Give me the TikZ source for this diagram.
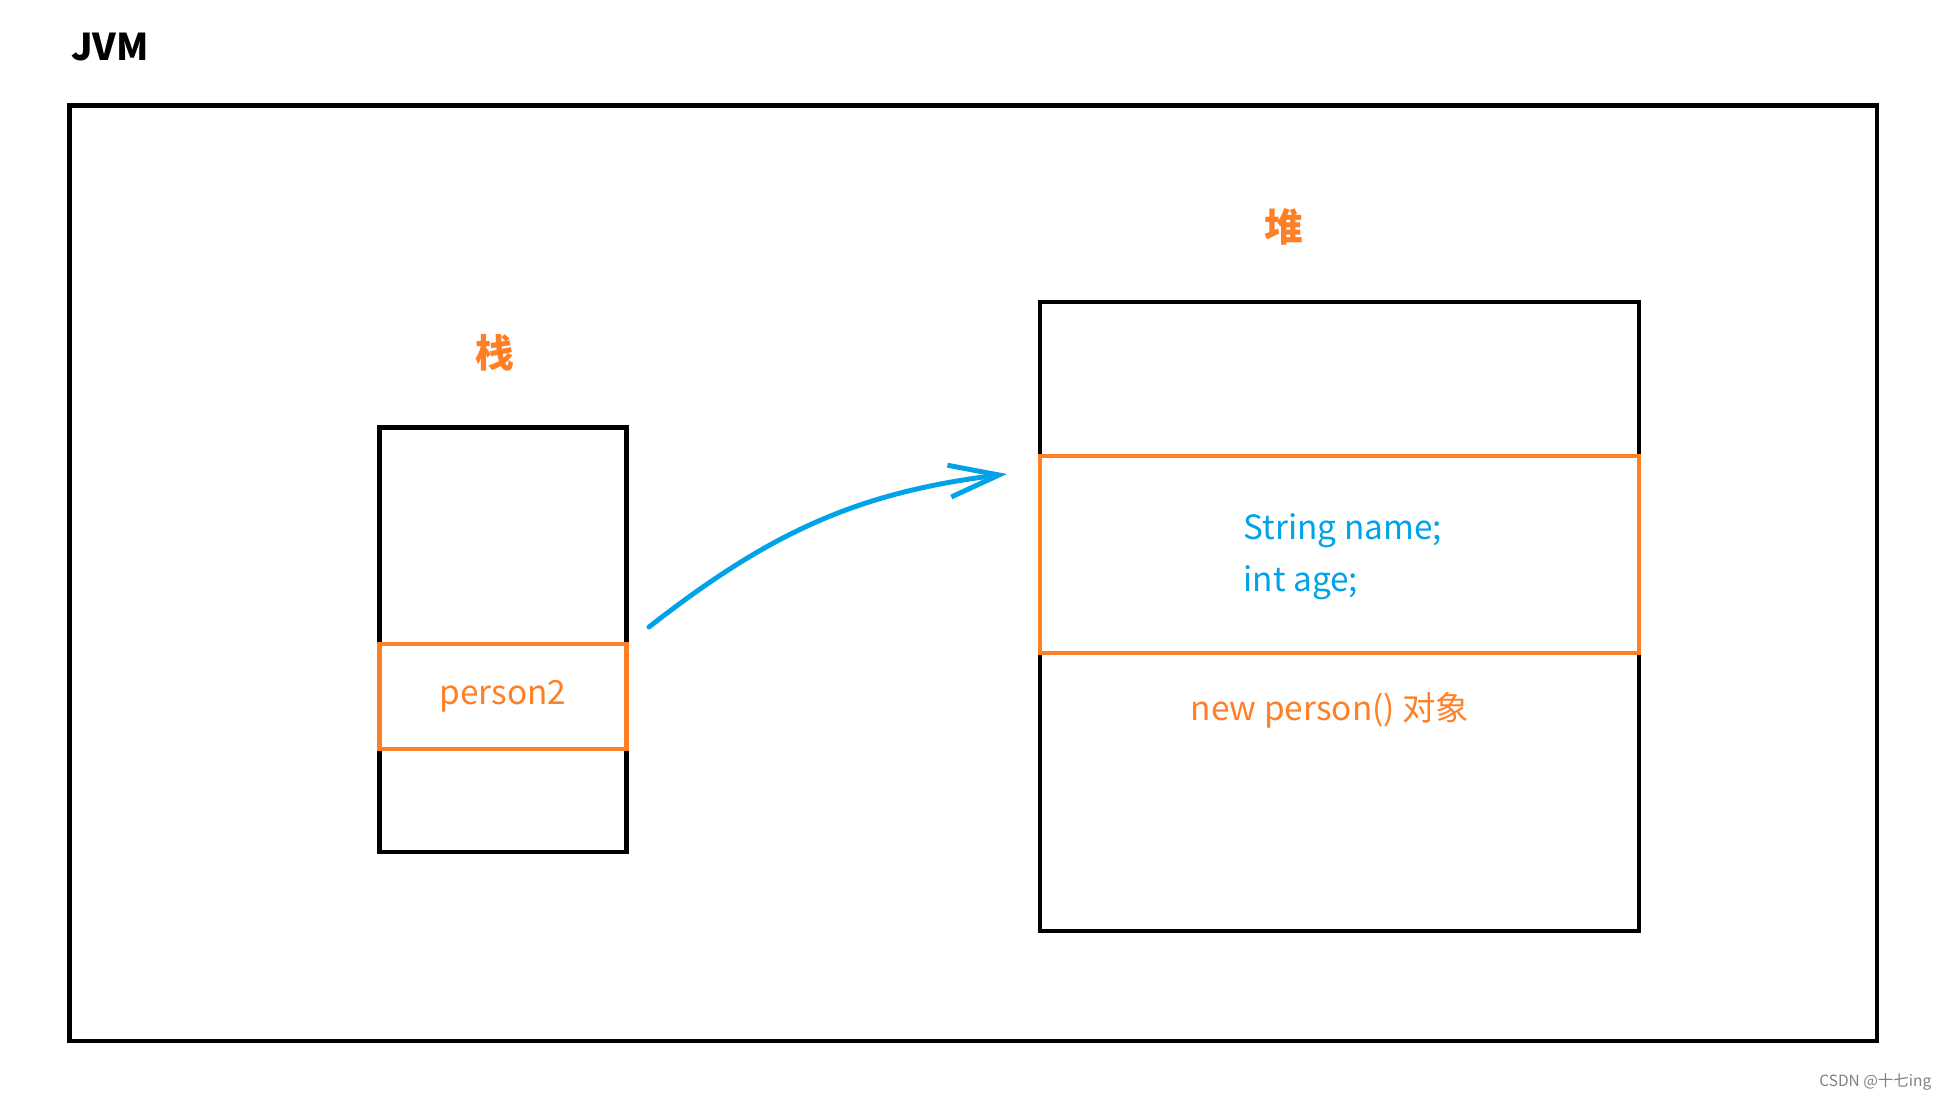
\documentclass[tikz,border=0pt]{standalone}
\usepackage{fontspec}
\setmainfont{Noto Sans CJK SC}
\usepackage{tikz}
\usetikzlibrary{positioning,arrows.meta}
\definecolor{paintorange}{HTML}{FF7F27}
\definecolor{paintblue}{HTML}{00A2E8}

\begin{document}
\begin{tikzpicture}[>=Stealth, x=1cm, y=1cm,
    box/.style={rectangle, draw=black, line width=1.4pt, inner sep=0pt},
    slot/.style={rectangle, draw=paintorange, line width=1.2pt, inner sep=0pt},
    area/.style={font=\fontsize{11}{13}\selectfont\bfseries, text=paintorange},
    field/.style={font=\fontsize{9.5}{12}\selectfont, text=paintblue, inner sep=0pt},
    ref/.style={draw=paintblue, line width=1.4pt, line cap=round},
    node distance=0.5cm]

\useasboundingbox (0,0) rectangle (19.47,-10.99);

\node[font=\fontsize{10.5}{12}\selectfont\bfseries, anchor=base, inner sep=0pt] (jvm) at (1.10,-0.60) {JVM};
\node[box, minimum width=18.075cm, minimum height=9.355cm] (jvmbox) at (9.7325,-5.7325) {};

\node[box, minimum width=2.47cm, minimum height=4.245cm] (stack) at (5.03,-6.3975) {};
\node[slot, minimum width=2.47cm, minimum height=1.05cm, text=paintorange,
      font=\fontsize{9.5}{12}\selectfont] (person) at (5.03,-6.965) {person2};
\node[area] (stacklabel) at (4.95,-3.53) {栈};

\node[box, minimum width=5.99cm, minimum height=6.29cm] (heap) at (13.395,-6.165) {};
\node[slot, minimum width=5.99cm, minimum height=1.97cm] (object) at (13.395,-5.545) {};
\node[area] (heaplabel) at (12.84,-2.27) {堆};
\node[field, anchor=base west] (name) at (12.43,-5.39) {String name;};
\node[field, anchor=base west] (age) at (12.43,-5.91) {int age;};
\node[field, text=paintorange, anchor=base] (newobj) at (13.30,-7.20) {new person() 对象};

\coordinate (from) at (6.49,-6.27);
\coordinate (to) at (10.07,-4.74);
\draw[ref, -{Straight Barb[length=5mm,width=3.2mm]}] (from) to[out=38,in=187] (to);

\node[font=\fontsize{4.4}{5}\selectfont, text=gray, anchor=east, inner sep=0pt] (mark) at (19.32,-10.82) {CSDN @十七ing};

\end{tikzpicture}
\end{document}
